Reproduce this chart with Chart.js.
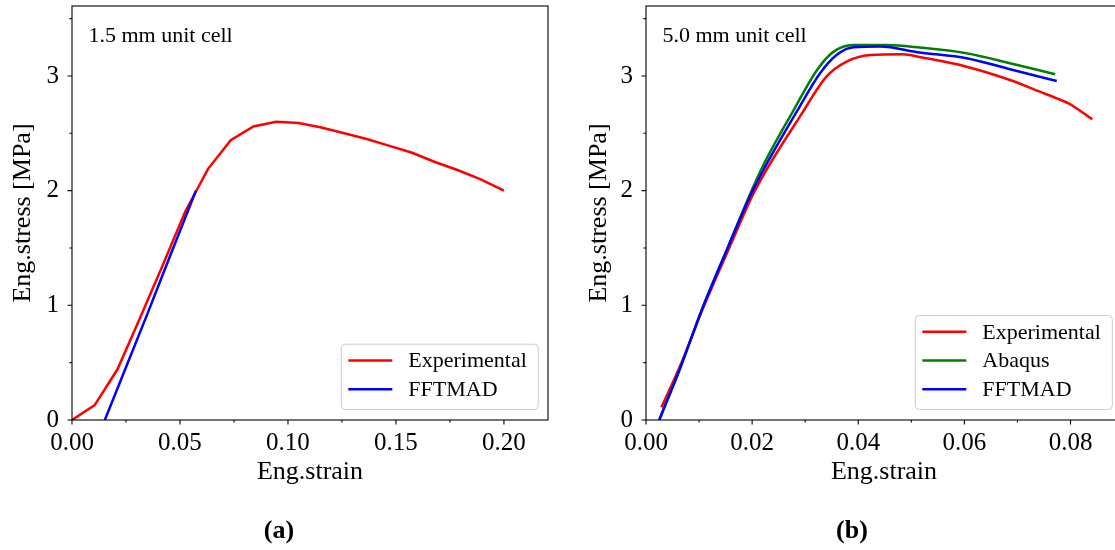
<!DOCTYPE html>
<html>
<head>
<meta charset="utf-8">
<script src="https://cdn.jsdelivr.net/npm/chart.js@4.4.1/dist/chart.umd.min.js"></script>
<style>
  html, body { margin: 0; padding: 0; background: #fff; overflow: hidden; }
  body { width: 1115px; height: 550px; position: relative; }
  canvas { position: absolute; top: 0; }
  #panelA { left: 0; }
  #panelB { left: 560px; }
  .sub { position: absolute; top: 515px; line-height: 32px; font: bold 26px 'Liberation Serif', serif; transform: translateX(-50%); }
</style>
</head>
<body>
<canvas id="panelA" width="560" height="550"></canvas>
<canvas id="panelB" width="570" height="550"></canvas>
<div class="sub" style="left:279px">(a)</div>
<div class="sub" style="left:852px">(b)</div>
<script>
// 1.5 mm unit cell
const strainExpA = [0, 0.0105, 0.021, 0.0315, 0.042, 0.0525, 0.063, 0.0735, 0.084, 0.0945, 0.105, 0.1155, 0.126, 0.1365, 0.147, 0.1575, 0.168, 0.1785, 0.189, 0.2];
const stressExpA = [0, 0.13, 0.44, 0.89, 1.35, 1.82, 2.19, 2.44, 2.56, 2.60, 2.59, 2.55, 2.50, 2.45, 2.39, 2.33, 2.25, 2.18, 2.10, 2.00];
const strainFftA = [0.0152, 0.025, 0.035, 0.045, 0.0574];
const stressFftA = [0, 0.46, 0.93, 1.41, 2.0];

// 5.0 mm unit cell
const strainExpB = [0.0029, 0.0065, 0.0108, 0.0155, 0.0201, 0.0232, 0.029, 0.034, 0.0378, 0.0422, 0.0485, 0.0516, 0.0604, 0.0686, 0.0742, 0.0774, 0.0799, 0.0811, 0.0841];
const stressExpB = [0.11, 0.48, 0.98, 1.48, 1.96, 2.22, 2.645, 2.994, 3.125, 3.183, 3.19, 3.165, 3.081, 2.965, 2.863, 2.805, 2.755, 2.718, 2.622];
const strainAbqB = [0.0025, 0.0065, 0.0106, 0.0152, 0.0197, 0.0222, 0.0278, 0.0322, 0.0353, 0.0391, 0.0453, 0.0516, 0.0604, 0.0686, 0.0771];
const stressAbqB = [0, 0.46, 0.97, 1.48, 1.98, 2.23, 2.70, 3.05, 3.21, 3.27, 3.27, 3.248, 3.198, 3.111, 3.015];
const strainFftB = [0.0025, 0.0065, 0.0106, 0.0152, 0.0198, 0.0226, 0.0284, 0.0328, 0.0359, 0.0391, 0.0441, 0.0516, 0.0604, 0.0686, 0.0774];
const stressFftB = [0, 0.46, 0.97, 1.48, 1.97, 2.22, 2.688, 3.024, 3.183, 3.251, 3.256, 3.204, 3.155, 3.059, 2.956];

// axis ticks
const xMajorA = [0, 0.05, 0.10, 0.15, 0.20];
const xMinorA = [0.025, 0.075, 0.125, 0.175];
const xMajorB = [0, 0.02, 0.04, 0.06, 0.08];
const xMinorB = [0.01, 0.03, 0.05, 0.07];
const yMajor = [0, 1, 2, 3];
const yMinor = [0.5, 1.5, 2.5, 3.5];

const FONT = 'Liberation Serif';
const pts = (xs, ys) => xs.map((x, i) => ({ x: x, y: ys[i] }));

// box, tick marks, caption and legend, drawn the matplotlib way
const decor = {
  id: 'decor',
  afterDatasetsDraw(chart, args, o) {
    const { ctx, chartArea: a, scales } = chart;
    ctx.save();
    ctx.strokeStyle = '#000';
    ctx.lineWidth = 1.1;
    ctx.strokeRect(a.left, a.top, a.right - a.left, a.bottom - a.top);
    ctx.beginPath();
    const xt = (v, len) => { const p = scales.x.getPixelForValue(v); ctx.moveTo(p, a.bottom); ctx.lineTo(p, a.bottom + len); };
    const yt = (v, len) => { const p = scales.y.getPixelForValue(v); ctx.moveTo(a.left, p); ctx.lineTo(a.left - len, p); };
    scales.x.ticks.forEach(t => xt(t.value, 4.5));
    o.xMinor.forEach(v => xt(v, 2.5));
    scales.y.ticks.forEach(t => yt(t.value, 4.5));
    o.yMinor.forEach(v => yt(v, 2.5));
    ctx.stroke();

    ctx.fillStyle = '#000';
    ctx.font = '22px "' + FONT + '"';
    ctx.textBaseline = 'alphabetic';
    ctx.fillText(o.caption, a.left + 16.5, 42);
    ctx.restore();
  },
  afterDraw(chart) {
    const { ctx, chartArea: a } = chart;
    const sets = chart.data.datasets;
    const w = 197, h = 7.9 + sets.length * 28.7;
    const bx = a.right - 9.7 - w, by = a.bottom - 10.5 - h;
    ctx.save();
    ctx.beginPath();
    ctx.roundRect(bx, by, w, h, 4);
    ctx.fillStyle = 'rgba(255,255,255,0.8)';
    ctx.fill();
    ctx.strokeStyle = '#cccccc';
    ctx.lineWidth = 1;
    ctx.stroke();
    ctx.font = '22px "' + FONT + '"';
    ctx.textBaseline = 'middle';
    sets.forEach((ds, i) => {
      const yy = by + 16.3 + i * 28.7;
      ctx.beginPath();
      ctx.moveTo(bx + 7, yy);
      ctx.lineTo(bx + 51, yy);
      ctx.strokeStyle = ds.borderColor;
      ctx.lineWidth = 2.5;
      ctx.stroke();
      ctx.fillStyle = '#000';
      ctx.fillText(ds.label, bx + 67, yy + 1);
    });
    ctx.restore();
  }
};

function line(label, data, color, order, smooth) {
  return {
    label: label, data: data, borderColor: color, borderWidth: 2.5,
    pointRadius: 0, fill: false, order: order,
    tension: 0, cubicInterpolationMode: smooth ? 'monotone' : 'default'
  };
}

function noPad(s) { s.paddingLeft = 0; s.paddingRight = 0; s.paddingTop = 0; s.paddingBottom = 0; }

function makeChart(id, datasets, xMax, xMajor, xMinor, yTitlePad, padRight, yWidth, caption) {
  const font = { family: FONT, size: 25 };
  const titleFont = { family: FONT, size: 26 };
  return new Chart(document.getElementById(id), {
    type: 'line',
    data: { datasets: datasets },
    options: {
      responsive: false,
      animation: false,
      events: [],
      layout: { padding: { left: 0, right: padRight, top: 6, bottom: 0 } },
      plugins: {
        legend: { display: false },
        tooltip: { enabled: false },
        decor: { xMinor: xMinor, yMinor: yMinor, caption: caption }
      },
      scales: {
        x: {
          type: 'linear', min: 0, max: xMax,
          afterBuildTicks: s => { s.ticks = xMajor.map(v => ({ value: v })); },
          afterFit: s => { s.height = 130; noPad(s); },
          ticks: { callback: v => v.toFixed(2), font: font, color: '#000', padding: 8.5, maxRotation: 0, autoSkip: false },
          grid: { display: false, drawTicks: false },
          border: { display: false },
          title: { display: true, text: 'Eng.strain', font: titleFont, color: '#000', padding: { top: 0, bottom: 62 } }
        },
        y: {
          type: 'linear', min: 0, max: 3.61,
          afterBuildTicks: s => { s.ticks = yMajor.map(v => ({ value: v })); },
          afterFit: s => { s.width = yWidth; noPad(s); },
          ticks: { callback: v => String(v), font: font, color: '#000', padding: 13 },
          grid: { display: false, drawTicks: false },
          border: { display: false },
          title: { display: true, text: 'Eng.stress [MPa]', font: titleFont, color: '#000', padding: { top: yTitlePad, bottom: 0 } }
        }
      }
    },
    plugins: [decor]
  });
}

makeChart('panelA', [
  line('Experimental', pts(strainExpA, stressExpA), '#ff0000', 2, false),
  line('FFTMAD', pts(strainFftA, stressFftA), '#0000ff', 1, false)
], 0.2204, xMajorA, xMinorA, 8, 12, 72, '1.5 mm unit cell');

makeChart('panelB', [
  line('Experimental', pts(strainExpB, stressExpB), '#ff0000', 3, true),
  line('Abaqus', pts(strainAbqB, stressAbqB), '#008000', 2, true),
  line('FFTMAD', pts(strainFftB, stressFftB), '#0000ff', 1, true)
], 0.0897, xMajorB, xMinorB, 24, 8, 86, '5.0 mm unit cell');
</script>
</body>
</html>
